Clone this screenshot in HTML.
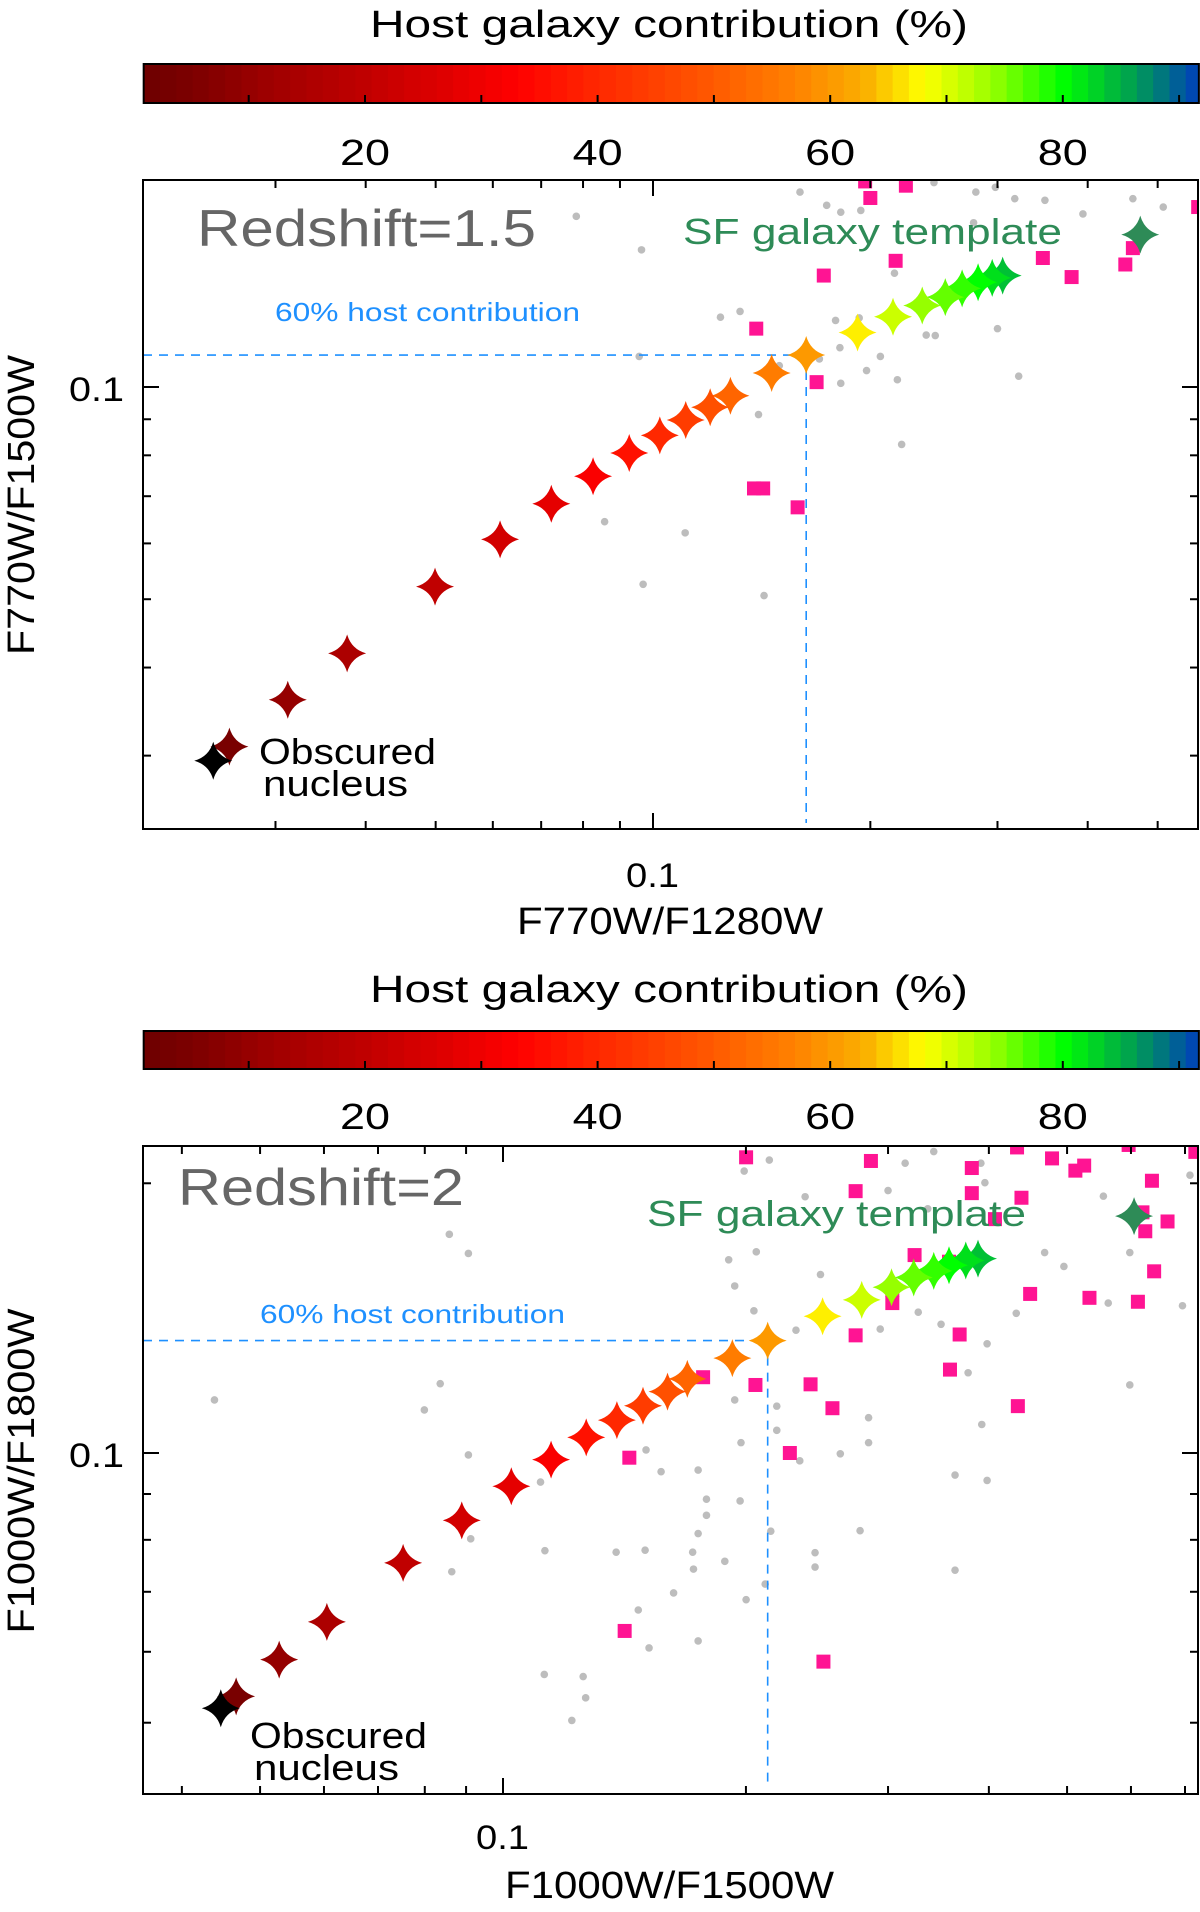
<!DOCTYPE html>
<html><head><meta charset="utf-8"><style>
html,body{margin:0;padding:0;background:#fff;}
svg{display:block;font-family:"Liberation Sans","DejaVu Sans",sans-serif;}
</style></head><body>
<svg id="fig" width="1200" height="1912" viewBox="0 0 1200 1912" xmlns="http://www.w3.org/2000/svg"></svg>
<script>
// ---------- DATA ----------
const hostPct = [0,4,10,15,20,24,28,32,36,40,44,48,52,56,60,67,71,74,76,78,80,82,84];
const colorbarTicks = [20,40,60,80];
const thresholdPct = 60;

// Panel 1: redshift 1.5
const p1StarX = [0.0246,0.0259,0.0312,0.0377,0.0499,0.0614,0.0723,0.0826,0.0927,0.1022,0.111,0.120,0.128,0.146,0.163,0.192,0.215,0.236,0.254,0.268,0.282,0.295,0.305];
const p1StarY = [0.0295,0.0309,0.0360,0.0419,0.0521,0.0608,0.0683,0.0747,0.0806,0.0854,0.0898,0.0936,0.0972,0.1047,0.1110,0.1195,0.1258,0.1305,0.1341,0.1380,0.1408,0.1428,0.1439];
const p1Template = [0.473,0.1645];
const p1SqX = [0.1967,0.224,0.200,0.1724,0.2168,0.3467,0.380,0.451,0.462,0.569,0.139,0.1685,0.138,0.1421,0.1586];
const p1SqY = [0.1957,0.193,0.1854,0.1439,0.151,0.1524,0.1432,0.1492,0.1574,0.180,0.121,0.1016,0.0718,0.0718,0.0675];
const p1DotX = [0.0783,0.0964,0.1598,0.174,0.182,0.194,0.245,0.280,0.298,0.317,0.349,0.394,0.462,0.509,0.278,0.124,0.132,0.179,0.193,0.239,0.246,0.300,0.216,0.1815,0.2065,0.170,0.0957,0.1976,0.182,0.218,0.321,0.140,0.221,0.0857,0.1108,0.0969,0.1425,0.1496,0.284];
const p1DotY = [0.1746,0.1565,0.189,0.181,0.177,0.178,0.195,0.189,0.192,0.185,0.184,0.176,0.185,0.180,0.171,0.1256,0.128,0.1243,0.1253,0.1185,0.1183,0.121,0.145,0.1137,0.1105,0.1096,0.1105,0.1055,0.1012,0.1024,0.1036,0.0914,0.0829,0.0644,0.0621,0.0525,0.0506,0.1072,0.141];
const p1XTicks = [0.03,0.04,0.05,0.06,0.07,0.08,0.09,0.1,0.2,0.3,0.4,0.5];
const p1YTicks = [0.03,0.04,0.05,0.06,0.07,0.08,0.09,0.1];

// Panel 2: redshift 2
const p2StarX = [0.0447,0.0467,0.0528,0.0605,0.0752,0.0889,0.1024,0.1147,0.1268,0.1384,0.1491,0.1599,0.1692,0.1924,0.2128,0.2489,0.2783,0.3030,0.3228,0.3418,0.3570,0.3745,0.3878];
const p2StarY = [0.0519,0.0535,0.0588,0.0648,0.0754,0.0841,0.0918,0.0983,0.1041,0.1088,0.1129,0.1171,0.1210,0.1276,0.1335,0.1421,0.1482,0.1531,0.1570,0.1597,0.1620,0.1640,0.1648];
const p2Template = [0.6053,0.1838];
const p2SqX = [0.2001,0.2857,0.4335,0.479,0.512,0.525,0.596,0.721,0.381,0.2735,0.381,0.439,0.637,0.620,0.625,0.666,0.407,0.3236,0.357,0.641,0.3037,0.450,0.533,0.612,0.3037,0.2735,0.368,0.358,0.177,0.2055,0.2405,0.256,0.4345,0.2267,0.1434,0.1415,0.2495];
const p2SqY = [0.2138,0.2118,0.2193,0.2132,0.2066,0.2093,0.2207,0.2168,0.208,0.196,0.195,0.1927,0.2013,0.1856,0.1768,0.1813,0.1824,0.1663,0.1635,0.1595,0.152,0.1505,0.149,0.1475,0.147,0.1353,0.1356,0.1239,0.1215,0.1191,0.1193,0.1122,0.1128,0.1,0.0988,0.0633,0.0585];
const p2DotX = [0.0439,0.0858,0.0906,0.0836,0.0799,0.199,0.2138,0.315,0.3418,0.391,0.300,0.2368,0.336,0.3955,0.469,0.4955,0.5546,0.598,0.710,0.695,0.5623,0.598,0.1904,0.206,0.1937,0.2474,0.2046,0.2307,0.2934,0.327,0.349,0.377,0.398,0.4325,0.1937,0.2184,0.2838,0.392,0.2184,0.1972,0.2332,0.2618,0.2838,0.1504,0.157,0.1745,0.1967,0.1787,0.1787,0.1745,0.2147,0.277,0.2436,0.3632,0.398,0.3632,0.1127,0.1381,0.150,0.1718,0.1722,0.1883,0.1627,0.2001,0.2113,0.1471,0.1517,0.1745,0.1125,0.1257,0.1266,0.1217,0.0864,0.0912,0.0906,0.1113,0.2436];
const p2DotY = [0.1146,0.1754,0.167,0.1195,0.1117,0.2064,0.2123,0.2106,0.217,0.2106,0.1963,0.1932,0.1873,0.2003,0.1674,0.1615,0.1935,0.1674,0.2042,0.146,0.147,0.1191,0.1643,0.1677,0.1536,0.1582,0.1441,0.1371,0.1375,0.1436,0.1392,0.1229,0.1324,0.1432,0.1146,0.1128,0.1095,0.1076,0.106,0.1027,0.098,0.0998,0.1027,0.1008,0.0953,0.0957,0.0884,0.0888,0.0852,0.0813,0.0818,0.0819,0.0774,0.0945,0.0932,0.074,0.0778,0.0775,0.0779,0.0775,0.0742,0.0757,0.0698,0.0686,0.0714,0.0668,0.0606,0.0617,0.0566,0.0563,0.0533,0.0503,0.0737,0.0802,0.0995,0.0928,0.0746];
const p2XTicks = [0.04,0.05,0.06,0.07,0.08,0.09,0.1,0.2,0.3,0.4,0.5,0.6,0.7];
const p2YTicks = [0.05,0.06,0.07,0.08,0.09,0.1,0.2];

// ---------- helpers ----------
const NS = "http://www.w3.org/2000/svg";
const svg = document.getElementById('fig');
function mk(tag, attrs, parent){
  const e = document.createElementNS(NS, tag);
  for (const k in attrs) e.setAttribute(k, attrs[k]);
  (parent||svg).appendChild(e);
  return e;
}
const cmapStops = [[1,[110,0,0]],[6,[128,0,0]],[12,[160,0,0]],[20,[192,0,0]],[27,[224,0,0]],[33,[255,0,0]],[40,[255,40,0]],[50,[255,90,0]],[57,[255,130,0]],[63,[250,175,0]],[68,[255,255,0]],[74,[150,255,0]],[80,[0,255,0]],[86,[0,160,80]],[92,[0,60,190]]];
function cmap(v){
  if (v<=0) return '#000';
  if (v<=cmapStops[0][0]) return rgb(cmapStops[0][1]);
  for (let i=1;i<cmapStops.length;i++){
    if (v<=cmapStops[i][0]){
      const a=cmapStops[i-1], b=cmapStops[i], t=(v-a[0])/(b[0]-a[0]);
      return rgb(a[1].map((c,j)=>Math.round(c+(b[1][j]-c)*t)));
    }
  }
  return rgb(cmapStops[cmapStops.length-1][1]);
}
function rgb(a){return 'rgb('+a.join(',')+')';}
function starPath(cx,cy,r){
  const k=r*0.22;
  return `M${cx},${cy-r} Q${cx+k},${cy-k} ${cx+r},${cy} Q${cx+k},${cy+k} ${cx},${cy+r} Q${cx-k},${cy+k} ${cx-r},${cy} Q${cx-k},${cy-k} ${cx},${cy-r} Z`;
}
function txt(s, x, y, size, fill, tl, parent, name, extra){
  const t = mk('text', Object.assign({x:x,y:y,'font-size':size,fill:fill}, extra||{}), parent);
  if (tl) { t.setAttribute('textLength', tl); t.setAttribute('lengthAdjust','spacingAndGlyphs'); }
  t.textContent = s;
  
  
  return t;
}

function colorbar(g, y0, y1, titleY, labelY){
  const cx = v => 365 + (v-20)*11.63;
  const vmin = 0.97, vmax = 91.7;
  const bar = mk('g', {}, g);
  
  
  const step = 1.4;
  for (let v=vmin; v<vmax; v+=step){
    const r = mk('rect', {x:cx(v), y:y0, width:cx(Math.min(v+step,vmax))-cx(v)+0.6, height:y1-y0, fill:cmap(v+step/2)}, bar);
    
    
  }
  const fr = mk('rect', {x:cx(vmin), y:y0, width:cx(vmax)-cx(vmin), height:y1-y0, fill:'none', stroke:'#000','stroke-width':2}, bar);
  
  
  for (let v=10; v<=90; v+=10){
    const tk = mk('line', {x1:cx(v), x2:cx(v), y1:y1, y2:y1-8, stroke:'#000','stroke-width':2}, bar);
    
    
  }
  colorbarTicks.forEach(v=>{
    txt(String(v), cx(v), labelY, 36, '#000', 50, g, 'colorbar-tick-label', {'text-anchor':'middle'});
  });
  txt('Host galaxy contribution (%)', 370, titleY, 38, '#000', 598, g, 'colorbar-title');
}

function panel(cfg){
  const g = mk('g', {});
  
  
  colorbar(g, cfg.cbY0, cfg.cbY1, cfg.titleY, cfg.cbLabelY);
  const L=143, R=1198, T=cfg.top, B=cfg.bottom;
  const X = v => cfg.x0 + Math.log10(v/0.1)*cfg.xd;
  const Y = v => cfg.y0 - Math.log10(v/0.1)*cfg.yd;
  const clip = mk('clipPath', {id:cfg.name+'-clip'}, g);
  mk('rect', {x:L,y:T,width:R-L,height:B-T}, clip);
  const plot = mk('g', {'clip-path':`url(#${cfg.name}-clip)`}, g);
  
  
  // gray dots
  cfg.dotX.forEach((v,i)=>{
    const c = mk('circle', {cx:X(v), cy:Y(cfg.dotY[i]), r:3.8, fill:'#bdbdbd'}, plot);
    
    
  });
  // pink squares
  cfg.sqX.forEach((v,i)=>{
    const s = mk('rect', {x:X(v)-7, y:Y(cfg.sqY[i])-7, width:14, height:14, fill:'#ff1493'}, plot);
    
    
  });
  // dashed threshold lines
  const ti = hostPct.indexOf(thresholdPct);
  const tx = X(cfg.starX[ti]), ty = Y(cfg.starY[ti]);
  const h = mk('line', {x1:L, x2:tx, y1:ty, y2:ty, stroke:'#1e90ff','stroke-width':1.6,'stroke-dasharray':'9 7'}, plot);
  
  
  const vl = mk('line', {x1:tx, x2:tx, y1:ty, y2:B-6, stroke:'#1e90ff','stroke-width':1.6,'stroke-dasharray':'9 7'}, plot);
  
  
  // template star
  const tp = mk('path', {d:starPath(X(cfg.template[0]), Y(cfg.template[1]), 19), fill:'#2e8b57'}, plot);
  
  
  // stars (draw from highest host to lowest so black is on top)
  for (let i=cfg.starX.length-1; i>=0; i--){
    const p = mk('path', {d:starPath(X(cfg.starX[i]), Y(cfg.starY[i]), 19), fill:cmap(hostPct[i])}, plot);
    
    
  }
  // frame
  const fr = mk('rect', {x:L, y:T, width:R-L, height:B-T, fill:'none', stroke:'#000','stroke-width':2}, g);
  
  
  cfg.xTicks.forEach(v=>{
    const len = (v===0.1)?16:8, x=X(v);
    const a = mk('line', {x1:x,x2:x,y1:B,y2:B-len,stroke:'#000','stroke-width':2}, g);
    
    
    const b = mk('line', {x1:x,x2:x,y1:T,y2:T+len,stroke:'#000','stroke-width':2}, g);
    
    
  });
  cfg.yTicks.forEach(v=>{
    const len = (v===0.1)?16:8, y=Y(v);
    const a = mk('line', {x1:L,x2:L+len,y1:y,y2:y,stroke:'#000','stroke-width':2}, g);
    
    
    const b = mk('line', {x1:R,x2:R-len,y1:y,y2:y,stroke:'#000','stroke-width':2}, g);
    
    
  });
  txt('0.1', 69, Y(0.1)+14, 34, '#000', 55, g, 'y-tick-label');
  txt('0.1', X(0.1)-27, cfg.xLabelY, 34, '#000', 53, g, 'x-tick-label');
  txt(cfg.xTitle, cfg.xTitleX, cfg.xTitleY, 38, '#000', cfg.xTitleW, g, 'x-axis-title');
  txt(cfg.yTitle, 0, 0, 38, '#000', cfg.yTitleW, g, 'y-axis-title', {'text-anchor':'middle', transform:`translate(34,${cfg.yTitleC}) rotate(-90)`});
  txt(cfg.zLabel, cfg.zX, cfg.zY, 52, '#666', cfg.zW, g, 'redshift-label');
  txt('SF galaxy template', cfg.sfX, cfg.sfY, 36, '#2e8b57', 379, g, 'sf-template-label');
  txt('60% host contribution', cfg.hcX, cfg.hcY, 26, '#1e90ff', 305, g, 'threshold-label');
  txt('Obscured', cfg.obX, cfg.obY, 36, '#000', 177, g, 'obscured-label');
  txt('nucleus', cfg.obX+4, cfg.obY+32, 36, '#000', 145, g, 'nucleus-label');
}

panel({name:'panel-z1-5', cbY0:64, cbY1:103, titleY:37, cbLabelY:165, top:180, bottom:829,
  x0:653, xd:722, y0:387, yd:705,
  starX:p1StarX, starY:p1StarY, template:p1Template, sqX:p1SqX, sqY:p1SqY, dotX:p1DotX, dotY:p1DotY,
  xTicks:p1XTicks, yTicks:p1YTicks, xLabelY:887,
  xTitle:'F770W/F1280W', xTitleX:517, xTitleY:934, xTitleW:306,
  yTitle:'F770W/F1500W', yTitleC:505, yTitleW:300,
  zLabel:'Redshift=1.5', zX:197, zY:246, zW:339,
  sfX:683, sfY:244, hcX:275, hcY:321, obX:259, obY:764});

panel({name:'panel-z2', cbY0:1031, cbY1:1069, titleY:1002, cbLabelY:1129, top:1146, bottom:1794,
  x0:503, xd:807, y0:1453, yd:896,
  starX:p2StarX, starY:p2StarY, template:p2Template, sqX:p2SqX, sqY:p2SqY, dotX:p2DotX, dotY:p2DotY,
  xTicks:p2XTicks, yTicks:p2YTicks, xLabelY:1849,
  xTitle:'F1000W/F1500W', xTitleX:505, xTitleY:1898, xTitleW:329,
  yTitle:'F1000W/F1800W', yTitleC:1471, yTitleW:325,
  zLabel:'Redshift=2', zX:178, zY:1205, zW:286,
  sfX:647, sfY:1226, hcX:260, hcY:1323, obX:250, obY:1748});
</script>
</body></html>
